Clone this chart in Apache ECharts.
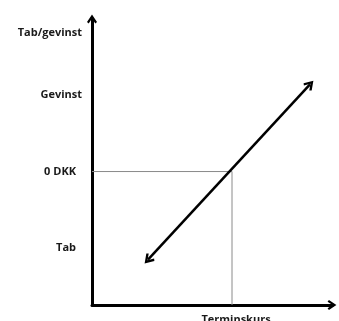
<!DOCTYPE html>
<html>
<head>
<meta charset="utf-8">
<script src="https://cdn.jsdelivr.net/npm/echarts@6/dist/echarts.min.js"></script>
<style>
  html, body { margin: 0; padding: 0; background: #fff; }
  #chart { width: 339px; height: 321px; }
</style>
</head>
<body>
<div id="chart"></div>
<script>
// y-akse: tab/gevinst, x-akse: terminskurs
const yTickValues = [29, 16, 0, -16]
const yTickLabels = ['Tab/gevinst', 'Gevinst', '0 DKK', 'Tab']
const xTickValues = [7]
const xTickLabels = ['Terminskurs']

// nulpunkt (terminskurs, 0 DKK)
const breakEven = [7, 0]
// diagonal pil: start og slut
const payoffX = [2.8, 10.9]
const payoffY = [-18.5, 18.3]

const yMin = -28
const yMax = 32
const xMin = 0
const xMax = 12

const chevron = 'path://M0,9 L6,0 L12,9 L10,10.6 L6,4.6 L2,10.6 Z'
const labelFont = { fontFamily: 'Open Sans', fontWeight: 'bold', fontSize: 11, color: '#1a1a1a' }

const myChart = echarts.init(document.getElementById('chart'))

// de korte labels står lidt længere fra aksen
const shortLabels = ['0 DKK', 'Tab']

const option = {
  animation: false,
  grid: { left: 92, right: 7, top: 19, bottom: 16, outerBoundsMode: 'none' },
  xAxis: {
    type: 'value',
    min: xMin,
    max: xMax,
    interval: 1,
    splitLine: { show: false },
    axisTick: { show: false },
    axisLine: {
      onZero: false,
      symbol: ['none', chevron],
      symbolSize: [10, 9],
      lineStyle: { color: '#000', width: 3 }
    },
    axisLabel: {
      ...labelFont,
      margin: 9,
      padding: [0, 0, 0, 8],
      formatter: (v) => {
        const i = xTickValues.indexOf(v)
        return i >= 0 ? xTickLabels[i] : ''
      }
    }
  },
  yAxis: {
    type: 'value',
    min: yMin,
    max: yMax,
    interval: 1,
    splitLine: { show: false },
    axisTick: { show: false },
    axisLine: {
      onZero: false,
      symbol: ['none', chevron],
      symbolSize: [10, 9],
      lineStyle: { color: '#000', width: 3 }
    },
    axisLabel: {
      ...labelFont,
      margin: 10,
      formatter: (v) => {
        const i = yTickValues.indexOf(v)
        if (i < 0) return ''
        const t = yTickLabels[i]
        return shortLabels.includes(t) ? '{s|' + t + '}' : t
      },
      rich: {
        s: { ...labelFont, padding: [0, 6, 0, 0] }
      }
    }
  },
  series: [
    {
      // hjælpelinjer til nulpunktet
      type: 'line',
      silent: true,
      symbol: 'none',
      lineStyle: { color: '#8a8a8a', width: 1 },
      data: [
        [xMin, breakEven[1]],
        breakEven,
        [breakEven[0], yMin]
      ]
    },
    {
      type: 'line',
      silent: true,
      symbol: 'none',
      data: [],
      markLine: {
        silent: true,
        symbol: [chevron, chevron],
        symbolSize: [11, 10],
        label: { show: false },
        emphasis: { disabled: true },
        lineStyle: { color: '#000', width: 2.5, type: 'solid' },
        data: [[
          { coord: [payoffX[0], payoffY[0]] },
          { coord: [payoffX[1], payoffY[1]] }
        ]]
      }
    }
  ]
}

myChart.setOption(option)
window.addEventListener('resize', () => {
  myChart.resize()
})
</script>
</body>
</html>
